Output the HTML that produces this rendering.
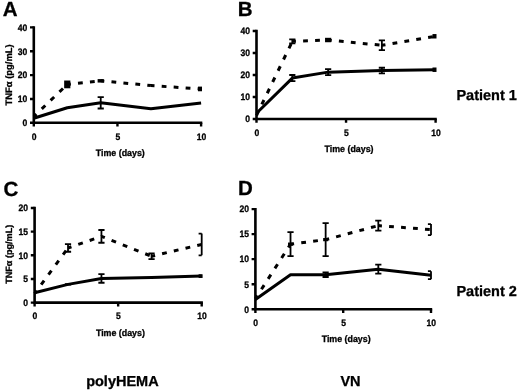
<!DOCTYPE html>
<html><head><meta charset="utf-8"><style>
html,body{margin:0;padding:0;background:#fff;width:520px;height:390px;overflow:hidden}
svg{display:block;will-change:transform}
text{font-family:"Liberation Sans", sans-serif;fill:#000;stroke:#000;stroke-width:0.3px;text-rendering:geometricPrecision}
</style></head><body>
<svg width="520" height="390" viewBox="0 0 520 390">
<text transform="translate(2.8 16.4) scale(1 1)" font-size="20.5" font-weight="bold">A</text>
<path d="M33.8 26.2V122.8H202.3" fill="none" stroke="#000" stroke-width="2.6" stroke-linejoin="miter" stroke-linecap="butt"/>
<text transform="translate(27.3 126.13) scale(0.92 1)" font-size="9.3" font-weight="bold" text-anchor="end">0</text>
<text transform="translate(27.3 102.28) scale(0.92 1)" font-size="9.3" font-weight="bold" text-anchor="end">10</text>
<text transform="translate(27.3 78.43) scale(0.92 1)" font-size="9.3" font-weight="bold" text-anchor="end">20</text>
<text transform="translate(27.3 54.58) scale(0.92 1)" font-size="9.3" font-weight="bold" text-anchor="end">30</text>
<text transform="translate(27.3 30.73) scale(0.92 1)" font-size="9.3" font-weight="bold" text-anchor="end">40</text>
<text transform="translate(34.1 139.6) scale(0.92 1)" font-size="9.3" font-weight="bold" text-anchor="middle">0</text>
<text transform="translate(117.75 139.6) scale(0.92 1)" font-size="9.3" font-weight="bold" text-anchor="middle">5</text>
<text transform="translate(201.4 139.6) scale(0.92 1)" font-size="9.3" font-weight="bold" text-anchor="middle">10</text>
<path d="M30 122.8H33.8M30 98.95H33.8M30 75.1H33.8M30 51.25H33.8M30 27.4H33.8M33.8 122.8V126.6M117.45 122.8V126.6M201.1 122.8V126.6" stroke="#000" stroke-width="2.4" fill="none"/>
<text transform="translate(120.25 155.6) scale(0.952 1)" font-size="9.3" font-weight="bold" text-anchor="middle">Time (days)</text>
<text transform="translate(11.8 74.9) rotate(-90)" font-size="9.4" font-weight="bold" text-anchor="middle">TNFα (pg/mL)</text>
<polyline points="33.8,118.27 67.26,107.77 100.72,102.77 150.91,108.73 201.1,103" fill="none" stroke="#000" stroke-width="3.0" stroke-linejoin="round"/>
<g fill="none" stroke="#000" stroke-width="3.0"><path d="M33.8 116.6L67.26 84.4" stroke-dasharray="4.91 7.37" stroke-dashoffset="1.23"/><path d="M67.26 84.4L100.72 80.82" stroke-dasharray="4.8 7.2" stroke-dashoffset="1.2"/><path d="M100.72 80.82L150.91 85.59" stroke-dasharray="4.8 7.2" stroke-dashoffset="1.2"/><path d="M150.91 85.59L201.1 88.93" stroke-dasharray="4.8 7.2" stroke-dashoffset="1.2"/></g>
<rect x="64.16" y="80.52" width="6.2" height="7.76"/>
<rect x="97.62" y="79.09" width="6.2" height="3.47"/>
<rect x="198" y="86.6" width="4" height="4.66"/>
<path d="M100.72 97.04V108.49M97.62 97.04H103.82M97.62 108.49H103.82" stroke="#000" stroke-width="1.8" fill="none"/>
<text transform="translate(237.7 16.4) scale(1 1)" font-size="20.5" font-weight="bold">B</text>
<path d="M256.5 29.8V119H436.8" fill="none" stroke="#000" stroke-width="2.6" stroke-linejoin="miter" stroke-linecap="butt"/>
<text transform="translate(250 122.33) scale(0.92 1)" font-size="9.3" font-weight="bold" text-anchor="end">0</text>
<text transform="translate(250 100.33) scale(0.92 1)" font-size="9.3" font-weight="bold" text-anchor="end">10</text>
<text transform="translate(250 78.33) scale(0.92 1)" font-size="9.3" font-weight="bold" text-anchor="end">20</text>
<text transform="translate(250 56.33) scale(0.92 1)" font-size="9.3" font-weight="bold" text-anchor="end">30</text>
<text transform="translate(250 34.33) scale(0.92 1)" font-size="9.3" font-weight="bold" text-anchor="end">40</text>
<text transform="translate(256.8 135.8) scale(0.92 1)" font-size="9.3" font-weight="bold" text-anchor="middle">0</text>
<text transform="translate(346.35 135.8) scale(0.92 1)" font-size="9.3" font-weight="bold" text-anchor="middle">5</text>
<text transform="translate(435.9 135.8) scale(0.92 1)" font-size="9.3" font-weight="bold" text-anchor="middle">10</text>
<path d="M252.7 119H256.5M252.7 97H256.5M252.7 75H256.5M252.7 53H256.5M252.7 31H256.5M256.5 119V122.8M346.05 119V122.8M435.6 119V122.8" stroke="#000" stroke-width="2.4" fill="none"/>
<text transform="translate(349 152) scale(0.952 1)" font-size="9.3" font-weight="bold" text-anchor="middle">Time (days)</text>
<polyline points="256.5,113.28 292.32,78.08 328.14,72.14 381.87,70.6 435.6,69.72" fill="none" stroke="#000" stroke-width="3.0" stroke-linejoin="round"/>
<g fill="none" stroke="#000" stroke-width="3.0"><path d="M256.5 115.48L292.32 41.34" stroke-dasharray="4.99 7.49" stroke-dashoffset="0.25"/><path d="M292.32 41.34L328.14 40.02" stroke-dasharray="4.8 7.2" stroke-dashoffset="1.2"/><path d="M328.14 40.02L381.87 45.3" stroke-dasharray="4.8 7.2" stroke-dashoffset="1.2"/><path d="M381.87 45.3L435.6 36.28" stroke-dasharray="4.81 7.21" stroke-dashoffset="1.2"/></g>
<rect x="432.5" y="67.5" width="4" height="4.44"/>
<rect x="325.04" y="37.8" width="6.2" height="4.44"/>
<rect x="432.5" y="34.06" width="4" height="4.44"/>
<path d="M292.32 75V81.16M289.22 75H295.42M289.22 81.16H295.42M328.14 69.06V75.22M325.04 69.06H331.24M325.04 75.22H331.24M381.87 67.74V73.46M378.77 67.74H384.97M378.77 73.46H384.97M292.32 39.36V43.32M289.22 39.36H295.42M289.22 43.32H295.42M381.87 40.46V50.14M378.77 40.46H384.97M378.77 50.14H384.97" stroke="#000" stroke-width="1.8" fill="none"/>
<text transform="translate(3.4 195.7) scale(1 1)" font-size="20.5" font-weight="bold">C</text>
<path d="M34.6 206.8V302.6H202.9" fill="none" stroke="#000" stroke-width="2.6" stroke-linejoin="miter" stroke-linecap="butt"/>
<text transform="translate(28.1 305.93) scale(0.92 1)" font-size="9.3" font-weight="bold" text-anchor="end">0</text>
<text transform="translate(28.1 282.28) scale(0.92 1)" font-size="9.3" font-weight="bold" text-anchor="end">5</text>
<text transform="translate(28.1 258.63) scale(0.92 1)" font-size="9.3" font-weight="bold" text-anchor="end">10</text>
<text transform="translate(28.1 234.98) scale(0.92 1)" font-size="9.3" font-weight="bold" text-anchor="end">15</text>
<text transform="translate(28.1 211.33) scale(0.92 1)" font-size="9.3" font-weight="bold" text-anchor="end">20</text>
<text transform="translate(34.9 319.4) scale(0.92 1)" font-size="9.3" font-weight="bold" text-anchor="middle">0</text>
<text transform="translate(118.45 319.4) scale(0.92 1)" font-size="9.3" font-weight="bold" text-anchor="middle">5</text>
<text transform="translate(202 319.4) scale(0.92 1)" font-size="9.3" font-weight="bold" text-anchor="middle">10</text>
<path d="M30.8 302.6H34.6M30.8 278.95H34.6M30.8 255.3H34.6M30.8 231.65H34.6M30.8 208H34.6M34.6 302.6V306.4M118.15 302.6V306.4M201.7 302.6V306.4" stroke="#000" stroke-width="2.4" fill="none"/>
<text transform="translate(120.4 335.5) scale(0.952 1)" font-size="9.3" font-weight="bold" text-anchor="middle">Time (days)</text>
<text transform="translate(11.8 254.3) rotate(-90)" font-size="9.1" font-weight="bold" text-anchor="middle">TNFα (pg/mL)</text>
<polyline points="34.6,292.67 68.02,284.39 101.44,278.48 151.57,277.53 201.7,276.11" fill="none" stroke="#000" stroke-width="3.0" stroke-linejoin="round"/>
<g fill="none" stroke="#000" stroke-width="3.0"><path d="M34.6 293.61L68.02 247.97" stroke-dasharray="4.95 7.43" stroke-dashoffset="1.24"/><path d="M68.02 247.97L101.44 236.38" stroke-dasharray="4.82 7.24" stroke-dashoffset="1.21"/><path d="M101.44 236.38L151.57 256.25" stroke-dasharray="4.83 7.25" stroke-dashoffset="1.21"/><path d="M151.57 256.25L201.7 244.42" stroke-dasharray="4.81 7.22" stroke-dashoffset="1.2"/></g>
<rect x="64.92" y="283.25" width="6.2" height="2.27"/>
<rect x="198.6" y="274.27" width="4" height="3.69"/>
<path d="M101.44 274.22V282.73M98.34 274.22H104.54M98.34 282.73H104.54M68.02 244.18V251.75M64.92 244.18H71.12M64.92 251.75H71.12M101.44 229.99V242.77M98.34 229.99H104.54M98.34 242.77H104.54M151.57 253.41V259.08M148.47 253.41H154.67M148.47 259.08H154.67M201.7 233.54V255.3M198.6 233.54H201.7M198.6 255.3H201.7" stroke="#000" stroke-width="1.8" fill="none"/>
<text transform="translate(237.9 195.4) scale(1 1)" font-size="20.5" font-weight="bold">D</text>
<path d="M255.4 207.9V309.2H432.2" fill="none" stroke="#000" stroke-width="2.6" stroke-linejoin="miter" stroke-linecap="butt"/>
<text transform="translate(248.9 312.53) scale(0.92 1)" font-size="9.3" font-weight="bold" text-anchor="end">0</text>
<text transform="translate(248.9 287.5) scale(0.92 1)" font-size="9.3" font-weight="bold" text-anchor="end">5</text>
<text transform="translate(248.9 262.48) scale(0.92 1)" font-size="9.3" font-weight="bold" text-anchor="end">10</text>
<text transform="translate(248.9 237.46) scale(0.92 1)" font-size="9.3" font-weight="bold" text-anchor="end">15</text>
<text transform="translate(248.9 212.43) scale(0.92 1)" font-size="9.3" font-weight="bold" text-anchor="end">20</text>
<text transform="translate(255.7 326) scale(0.92 1)" font-size="9.3" font-weight="bold" text-anchor="middle">0</text>
<text transform="translate(343.5 326) scale(0.92 1)" font-size="9.3" font-weight="bold" text-anchor="middle">5</text>
<text transform="translate(431.3 326) scale(0.92 1)" font-size="9.3" font-weight="bold" text-anchor="middle">10</text>
<path d="M251.6 309.2H255.4M251.6 284.18H255.4M251.6 259.15H255.4M251.6 234.12H255.4M251.6 209.1H255.4M255.4 309.2V313M343.2 309.2V313M431 309.2V313" stroke="#000" stroke-width="2.4" fill="none"/>
<text transform="translate(346.15 341.6) scale(0.952 1)" font-size="9.3" font-weight="bold" text-anchor="middle">Time (days)</text>
<polyline points="255.4,299.44 290.52,274.77 325.64,274.77 378.32,269.16 431,275.17" fill="none" stroke="#000" stroke-width="3.0" stroke-linejoin="round"/>
<g fill="none" stroke="#000" stroke-width="3.0"><path d="M255.4 298.69L290.52 244.13" stroke-dasharray="4.97 7.45" stroke-dashoffset="1.24"/><path d="M290.52 244.13L325.64 239.63" stroke-dasharray="4.8 7.21" stroke-dashoffset="1.2"/><path d="M325.64 239.63L378.32 225.62" stroke-dasharray="4.81 7.22" stroke-dashoffset="1.2"/><path d="M378.32 225.62L431 229.62" stroke-dasharray="4.8 7.2" stroke-dashoffset="1.2"/></g>
<path d="M325.64 272.51V277.02M322.54 272.51H328.74M322.54 277.02H328.74M378.32 264.66V273.66M375.22 264.66H381.42M375.22 273.66H381.42M431 271.16V279.17M427.9 271.16H431M427.9 279.17H431M290.52 232.12V256.15M287.42 232.12H293.62M287.42 256.15H293.62M325.64 223.11V256.15M322.54 223.11H328.74M322.54 256.15H328.74M378.32 220.61V230.62M375.22 220.61H381.42M375.22 230.62H381.42M431 224.12V235.13M427.9 224.12H431M427.9 235.13H431" stroke="#000" stroke-width="1.8" fill="none"/>
<rect x="288.02" y="242.53" width="5" height="3.2"/>
<rect x="323.14" y="238.03" width="5" height="3.2"/>
<text x="456.4" y="100.2" font-size="14.5" font-weight="bold">Patient 1</text>
<text x="456.4" y="295.8" font-size="14.5" font-weight="bold">Patient 2</text>
<text x="122.4" y="386" font-size="14.5" font-weight="bold" text-anchor="middle">polyHEMA</text>
<text x="350.5" y="386" font-size="14.5" font-weight="bold" text-anchor="middle">VN</text>
</svg>
</body></html>
